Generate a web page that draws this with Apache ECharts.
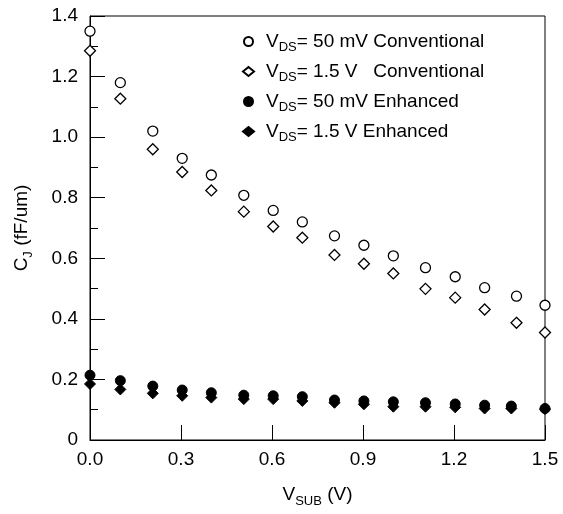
<!DOCTYPE html>
<html>
<head>
<meta charset="utf-8">
<script src="https://cdn.jsdelivr.net/npm/echarts@6/dist/echarts.min.js"></script>
<style>html,body{margin:0;padding:0;background:#fff}#c{width:563px;height:514px}</style>
</head>
<body>
<div id="c"></div>
<script>
// Data
const vsub = [0.0, 0.1, 0.207, 0.304, 0.4, 0.507, 0.604, 0.7, 0.806, 0.903, 1.0, 1.106, 1.204, 1.301, 1.406, 1.5];
const vsubEnh = [0.0, 0.1, 0.207, 0.304, 0.4, 0.507, 0.604, 0.7, 0.806, 0.903, 1.0, 1.106, 1.204, 1.301, 1.389, 1.5];
const conv50mV = [1.35, 1.18, 1.02, 0.93, 0.875, 0.808, 0.758, 0.72, 0.674, 0.643, 0.608, 0.569, 0.539, 0.503, 0.475, 0.445];
const conv15V = [1.285, 1.127, 0.96, 0.885, 0.824, 0.754, 0.705, 0.668, 0.611, 0.582, 0.55, 0.499, 0.47, 0.431, 0.387, 0.355];
const enh50mV = [0.214, 0.196, 0.178, 0.165, 0.156, 0.148, 0.146, 0.143, 0.132, 0.129, 0.126, 0.123, 0.119, 0.115, 0.112, 0.104];
const enh15V = [0.185, 0.167, 0.154, 0.146, 0.14, 0.135, 0.135, 0.129, 0.123, 0.118, 0.11, 0.11, 0.108, 0.104, 0.104, 0.102];
const seriesNames = ['50mV Conventional', '1.5V Conventional', '50mV Enhanced', '1.5V Enhanced'];
const legendLabels = {
  '50mV Conventional': ['DS', '= 50 mV Conventional'],
  '1.5V Conventional': ['DS', '= 1.5 V   Conventional'],
  '50mV Enhanced': ['DS', '= 50 mV Enhanced'],
  '1.5V Enhanced': ['DS', '= 1.5 V Enhanced']
};
const xTicks = {min: 0, max: 1.5, interval: 0.3};
const yTicks = {min: 0, max: 1.4, interval: 0.2};

const FONT = 'Liberation Sans, Arial, sans-serif';
function pairs(xs, ys) { return ys.map((y, i) => [xs[i], y]); }
const hollow = {color: '#fff', borderColor: '#000', borderWidth: 1.3, opacity: 1};
const filled = {color: '#000', borderColor: '#000', borderWidth: 1, opacity: 1};
const rich = {
  v: {fontFamily: FONT, fontSize: 19, color: '#000', lineHeight: 22},
  s: {fontFamily: FONT, fontSize: 13, color: '#000', lineHeight: 14, padding: [12, 0, 0, 0]}
};

const chart = echarts.init(document.getElementById('c'), null, {renderer: 'canvas'});
chart.setOption({
  animation: false,
  backgroundColor: '#fff',
  textStyle: {fontFamily: FONT, color: '#000'},
  grid: {left: 90, right: 18, top: 16, bottom: 74, show: true, borderColor: '#000', borderWidth: 1, backgroundColor: 'transparent'},
  legend: {
    orient: 'vertical', left: 237, top: 24, itemGap: 5, itemWidth: 11, itemHeight: 9,
    data: seriesNames,
    formatter: n => '{v|V}{s|' + legendLabels[n][0] + '}{v|' + legendLabels[n][1] + '}',
    textStyle: {fontFamily: FONT, color: '#000', padding: [0, 0, 0, 7], rich: rich}
  },
  xAxis: {
    type: 'value', min: xTicks.min, max: xTicks.max, interval: xTicks.interval,
    name: '{v|V}{s|SUB}{v| (V)}', nameLocation: 'middle', nameGap: 44,
    nameTextStyle: {rich: rich},
    axisLine: {lineStyle: {color: '#000', width: 1}},
    axisTick: {inside: true, length: 15, lineStyle: {color: '#000'}},
    axisLabel: {fontFamily: FONT, fontSize: 19, color: '#000', margin: 10, formatter: v => v.toFixed(1)},
    splitLine: {show: false}
  },
  yAxis: {
    type: 'value', min: yTicks.min, max: yTicks.max, interval: yTicks.interval,
    name: '{v|C}{s|J}{v| (fF/um)}', nameLocation: 'middle', nameGap: 57, nameRotate: 90,
    nameTextStyle: {rich: rich},
    axisLine: {lineStyle: {color: '#000', width: 1}},
    axisTick: {inside: true, length: 15, lineStyle: {color: '#000'}},
    minorTick: {show: true, splitNumber: 2, length: 8, lineStyle: {color: '#000'}},
    axisLabel: {fontFamily: FONT, fontSize: 19, color: '#000', margin: 12, formatter: v => v === 0 ? '0' : v.toFixed(1)},
    splitLine: {show: false}
  },
  series: [
    {name: seriesNames[0], type: 'scatter', symbol: 'circle', symbolSize: 10, data: pairs(vsub, conv50mV), itemStyle: hollow, z: 3},
    {name: seriesNames[1], type: 'scatter', symbol: 'diamond', symbolSize: 11, data: pairs(vsub, conv15V), itemStyle: hollow, z: 3},
    {name: seriesNames[2], type: 'scatter', symbol: 'circle', symbolSize: 10, data: pairs(vsubEnh, enh50mV), itemStyle: filled, z: 3},
    {name: seriesNames[3], type: 'scatter', symbol: 'diamond', symbolSize: 11, data: pairs(vsubEnh, enh15V), itemStyle: filled, z: 3}
  ]
});
</script>
</body>
</html>
